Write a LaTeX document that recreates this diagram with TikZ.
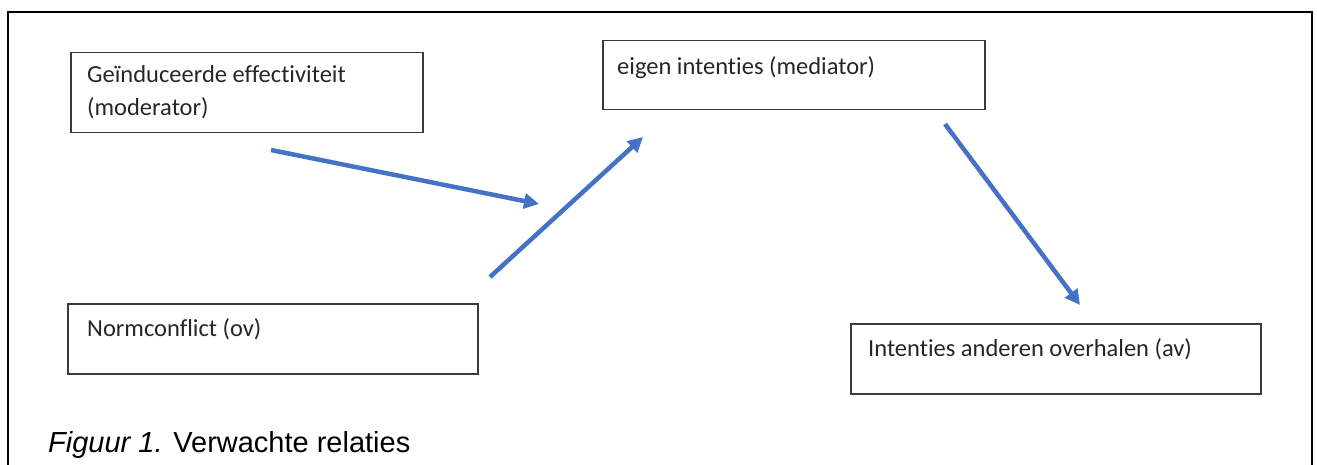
\documentclass[tikz,border=0pt]{standalone}
\usepackage{fontspec}
\setmainfont{Carlito}[Ligatures=NoCommon]
\newfontfamily\capfont{Liberation Sans}
\usetikzlibrary{arrows.meta}
\definecolor{arrowblue}{HTML}{4472C4}
\definecolor{boxgray}{HTML}{3A3A3A}
\begin{document}
\begin{tikzpicture}[x=1pt,y=-1pt,
  box/.style={draw=boxgray, line width=1.5pt, rectangle, inner sep=0pt, anchor=north west},
  boxtext/.style={anchor=base west, inner sep=0pt, align=left, text=black!85, font=\fontsize{24.5}{33}\selectfont},
  arr/.style={draw=arrowblue, line width=4.5pt, -{Triangle[length=15pt,width=15pt]}},
  frame/.style={draw=black, line width=2pt}]
\useasboundingbox (0,0) rectangle (1317,465);
% outer frame (open at the bottom)
\coordinate (fbl) at (8,466);
\coordinate (ftl) at (8,12);
\coordinate (ftr) at (1312,12);
\coordinate (fbr) at (1312,466);
\draw[frame] (fbl) -- (ftl) -- (ftr) -- (fbr);
% boxes
\node[box, minimum width=352pt, minimum height=80pt] (mod) at (70,52) {};
\node[boxtext] (modt) at (87,116) {Geïnduceerde effectiviteit\\(moderator)};
\node[box, minimum width=382pt, minimum height=69pt] (med) at (602,40) {};
\node[boxtext] (medt) at (617,75) {eigen intenties (mediator)};
\node[box, minimum width=410pt, minimum height=70pt] (ov) at (67,303) {};
\node[boxtext] (ovt) at (87,336) {Normconflict (ov)};
\node[box, minimum width=410pt, minimum height=70pt] (av) at (850,323) {};
\node[boxtext] (avt) at (868,356) {Intenties anderen overhalen (av)};
% arrows
\coordinate (a1s) at (271,150);
\coordinate (a1e) at (539,204);
\coordinate (a2s) at (490,277);
\coordinate (a2e) at (643,137);
\coordinate (a3s) at (945,124);
\coordinate (a3e) at (1080,305);
\draw[arr] (a1s) -- (a1e);
\draw[arr] (a2s) -- (a2e);
\draw[arr] (a3s) -- (a3e);
% caption
\node[anchor=base west, inner sep=0pt, font=\capfont\fontsize{29}{34}\selectfont] (cap) at (48,452) {\textit{Figuur 1.} Verwachte relaties};
\end{tikzpicture}
\end{document}
